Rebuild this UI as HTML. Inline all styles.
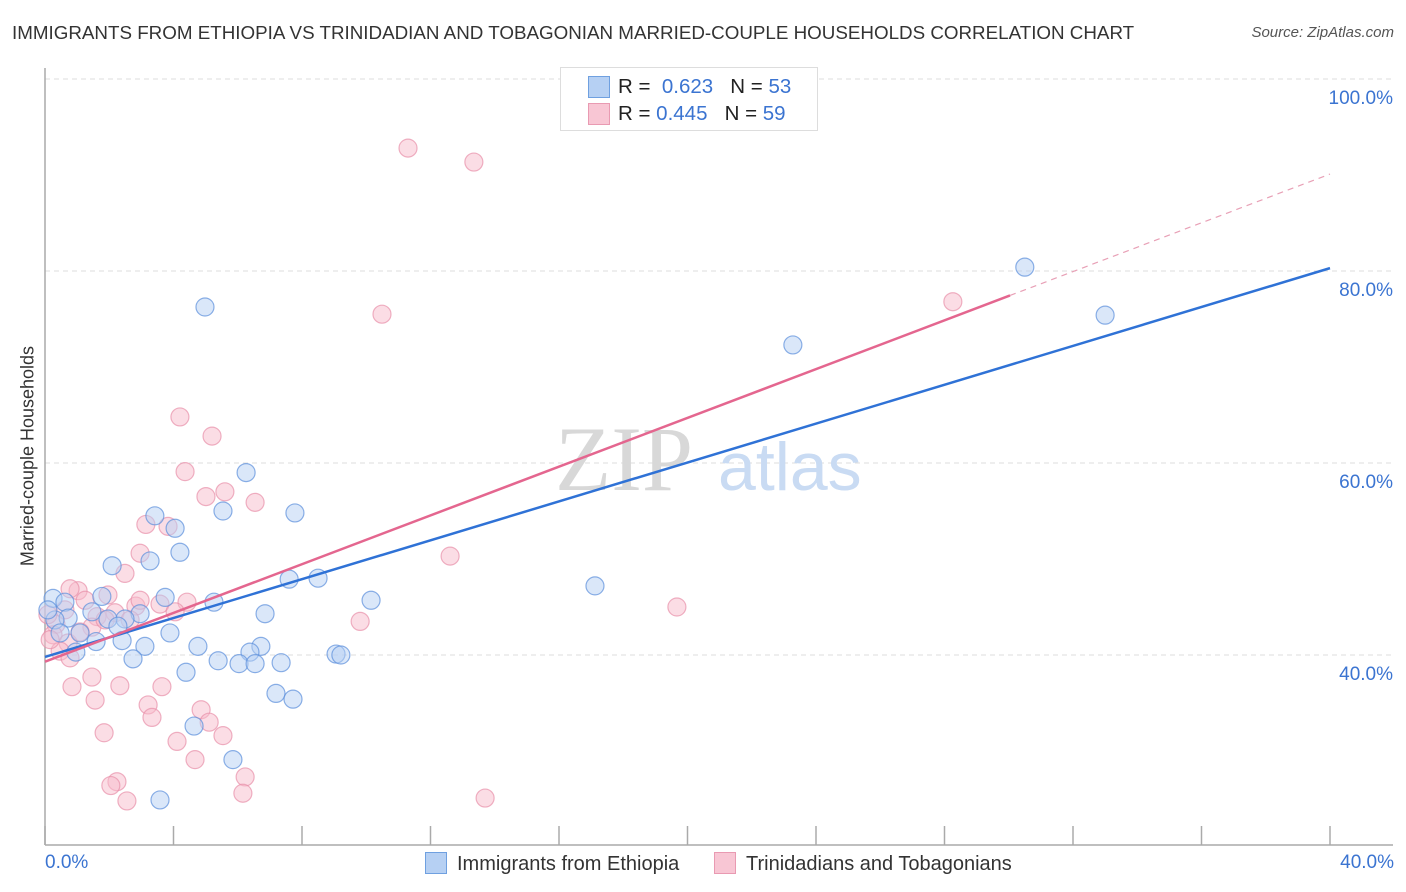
<!DOCTYPE html>
<html><head><meta charset="utf-8">
<style>
body{margin:0;background:#fff;font-family:"Liberation Sans",sans-serif;}
#wrap{position:relative;width:1406px;height:892px;overflow:hidden;}
.t{position:absolute;white-space:nowrap;}
</style></head>
<body>
<div id="wrap">
<div class="t" style="left:12px;top:22px;font-size:18.8px;color:#333;">IMMIGRANTS FROM ETHIOPIA VS TRINIDADIAN AND TOBAGONIAN MARRIED-COUPLE HOUSEHOLDS CORRELATION CHART</div>
<div class="t" style="right:12px;top:24px;font-size:15px;color:#555;font-style:italic;">Source: ZipAtlas.com</div>
<svg id="chart" width="1406" height="892" style="position:absolute;left:0;top:0"></svg>
</div>
<script>
const blueX=[4.98,30.5,33.0,23.28,6.26,5.54,7.78,3.42,4.05,4.20,3.27,2.09,7.60,8.50,17.12,3.74,1.77,5.26,10.15,0.25,0.62,1.46,6.85,2.96,2.49,0.72,1.96,0.31,2.27,3.89,1.09,0.47,1.59,2.40,3.11,4.76,6.72,6.38,0.96,2.74,5.39,6.04,6.54,7.35,9.06,9.21,4.39,7.19,7.72,4.64,5.85,3.58,0.09];
const blueY=[76.25,80.4,75.4,72.3,59.0,55.0,54.8,54.5,53.2,50.7,49.8,49.3,47.9,48.0,47.2,46.0,46.1,45.5,45.7,45.9,45.5,44.5,44.3,44.3,43.75,43.85,43.75,43.65,43.0,42.3,42.3,42.3,41.4,41.5,40.9,40.9,40.9,40.3,40.3,39.6,39.4,39.1,39.1,39.2,40.1,40.0,38.2,36.0,35.4,32.6,29.1,24.9,44.7];
const pinkX=[11.3,13.35,28.26,10.49,4.20,5.20,4.36,5.60,5.01,6.54,3.14,3.83,2.96,12.61,2.49,1.03,1.96,19.67,0.78,3.58,4.42,2.83,4.05,9.81,2.18,1.62,1.46,0.34,0.09,0.25,0.72,1.09,0.47,0.78,0.84,2.33,3.64,1.46,1.56,3.21,3.33,4.86,5.11,1.84,4.11,5.54,4.67,6.23,2.24,2.05,6.16,2.55,13.70,1.87,2.65,1.25,0.62,2.96,0.16];
const pinkY=[92.8,91.35,76.8,75.5,64.8,62.8,59.1,57.0,56.5,55.9,53.6,53.4,50.6,50.3,48.5,46.7,46.25,45.0,46.9,45.3,45.5,45.1,44.5,43.5,44.4,44.0,42.9,43.2,44.2,42.1,41.25,42.4,40.4,39.7,36.7,36.8,36.7,37.7,35.3,34.8,33.5,34.3,33.0,31.9,31.0,31.6,29.1,27.3,26.8,26.4,25.6,24.8,25.1,43.65,43.65,45.7,44.7,45.7,41.6];
const blueTrend=[39.8,80.3];
const pinkTrend=[39.3,90.1];
const pinkSolidEnd=30.04;
const yTicks=[100,80,60,40];
const yTickLabels=["100.0%","80.0%","60.0%","40.0%"];
const xTicks=[0,4,8,12,16,20,24,28,32,36,40];

const NS="http://www.w3.org/2000/svg";
const svg=document.getElementById('chart');
const X=v=>45+v*32.125;
const Y=v=>79+(100-v)*9.6;
function mk(tag,attrs,parent){const e=document.createElementNS(NS,tag);for(const k in attrs)e.setAttribute(k,attrs[k]);(parent||svg).appendChild(e);return e;}

yTicks.forEach((t,i)=>{
  const g=mk('line',{x1:45,x2:1393,y1:Y(t),y2:Y(t),stroke:'#ddd','stroke-dasharray':'5,4'});
  
  
  const tx=mk('text',{x:1393,y:Y(t)+25,'text-anchor':'end','font-size':19,fill:'#3b74d1','font-family':'Liberation Sans, sans-serif'});
  tx.textContent=yTickLabels[i];
  
  
});
const ax=mk('line',{x1:45,x2:45,y1:68,y2:845,stroke:'#aaa','stroke-width':1.5});


const bx=mk('line',{x1:45,x2:1393,y1:845,y2:845,stroke:'#aaa','stroke-width':1.5});


xTicks.forEach(t=>{
  const l=mk('line',{x1:X(t),x2:X(t),y1:826,y2:845,stroke:'#aaa','stroke-width':1.5});
  
  
});
const wm=mk('text',{x:555,y:490,'font-size':92,fill:'#d8d8d8','font-family':'Liberation Serif, serif'});
wm.textContent='ZIP';


const wm2=mk('text',{x:718,y:490,'font-size':68,fill:'#c9dbf3','font-family':'Liberation Sans, sans-serif'});
wm2.textContent='atlas';



function dots(xs,ys,fill,stroke,name){
  xs.forEach((v,i)=>{
    const c=mk('circle',{cx:X(v),cy:Y(ys[i]),r:9,fill:fill,'fill-opacity':0.5,stroke:stroke,'stroke-width':1.2,'stroke-opacity':0.7});
    
    
  });
}
dots(pinkX,pinkY,'#f7bccb','#e890aa','pink-point');
dots(blueX,blueY,'#b6d0f3','#5b8fdc','blue-point');

const bl=mk('line',{x1:X(0),y1:Y(blueTrend[0]),x2:X(40),y2:Y(blueTrend[1]),stroke:'#2f72d6','stroke-width':2.5});


const pAt=v=>pinkTrend[0]+(pinkTrend[1]-pinkTrend[0])*v/40;
const pl=mk('line',{x1:X(0),y1:Y(pinkTrend[0]),x2:X(pinkSolidEnd),y2:Y(pAt(pinkSolidEnd)),stroke:'#e4668f','stroke-width':2.5});


const pd=mk('line',{x1:X(pinkSolidEnd),y1:Y(pAt(pinkSolidEnd)),x2:X(40),y2:Y(pinkTrend[1]),stroke:'#e8a0b6','stroke-width':1.2,'stroke-dasharray':'6,5'});


</script>
<div class="t" style="left:28px;top:456px;font-size:18px;color:#333;transform:translate(-50%,-50%) rotate(-90deg);">Married-couple Households</div>
<div class="t" style="left:45px;top:852px;font-size:19px;color:#3b74d1;">0.0%</div>
<div class="t" style="right:12px;top:852px;font-size:19px;color:#3b74d1;">40.0%</div>
<div style="position:absolute;left:560px;top:67px;width:256px;height:62px;border:1px solid #ddd;background:#fff;font-size:20.5px;color:#222;">
  <div style="position:absolute;left:27px;top:8px;width:20px;height:20px;background:#b6d0f3;border:1px solid #6fa0e0;"></div>
  <div class="t" style="left:57px;top:7px;">R = &nbsp;<span style="color:#3b74d1">0.623</span> &nbsp;&nbsp;N = <span style="color:#3b74d1">53</span></div>
  <div style="position:absolute;left:27px;top:35px;width:20px;height:20px;background:#f8c6d4;border:1px solid #e99ab2;"></div>
  <div class="t" style="left:57px;top:34px;">R = <span style="color:#3b74d1">0.445</span> &nbsp;&nbsp;N = <span style="color:#3b74d1">59</span></div>
</div>
<div style="position:absolute;left:425px;top:852px;font-size:20px;color:#333;">
  <div style="position:absolute;left:0;top:0;white-space:nowrap;"><span style="display:inline-block;width:20px;height:20px;background:#b6d0f3;border:1px solid #6fa0e0;vertical-align:-4px;margin-right:10px;"></span>Immigrants from Ethiopia</div>
  <div style="position:absolute;left:289px;top:0;white-space:nowrap;"><span style="display:inline-block;width:20px;height:20px;background:#f8c6d4;border:1px solid #e99ab2;vertical-align:-4px;margin-right:10px;"></span>Trinidadians and Tobagonians</div>
</div>
</body></html>
